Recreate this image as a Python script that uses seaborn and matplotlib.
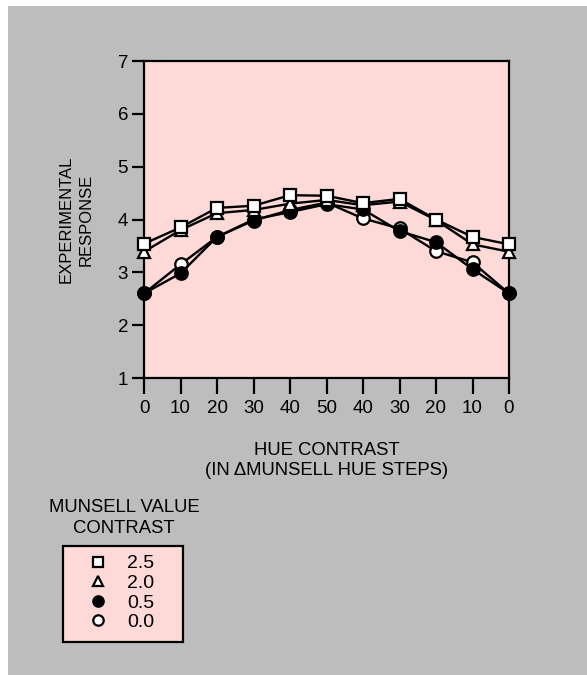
import matplotlib
matplotlib.use('Agg')
import matplotlib.pyplot as plt
from matplotlib.lines import Line2D
from matplotlib.patches import Rectangle
import numpy as np
import pandas as pd
import seaborn as sns

# ── Data ──────────────────────────────────────────────────────────────────────
hue_labels = ['0', '10', '20', '30', '40', '50', '40', '30', '20', '10', '0']
contrast_levels = ['2.5', '2.0', '0.5', '0.0']

resp_25 = [3.54, 3.85, 4.22, 4.26, 4.46, 4.45, 4.31, 4.39, 4.00, 3.67, 3.53]
resp_20 = [3.39, 3.80, 4.12, 4.18, 4.30, 4.37, 4.27, 4.34, 3.99, 3.53, 3.39]
resp_05 = [2.60, 2.98, 3.67, 4.00, 4.14, 4.29, 4.19, 3.78, 3.57, 3.06, 2.60]
resp_00 = [2.60, 3.15, 3.67, 3.98, 4.18, 4.32, 4.02, 3.83, 3.40, 3.19, 2.60]

pos = np.arange(len(hue_labels))
df = pd.DataFrame({
    'pos': np.tile(pos, 4),
    'response': resp_25 + resp_20 + resp_05 + resp_00,
    'contrast': np.repeat(contrast_levels, len(pos)),
})

# ── Style ─────────────────────────────────────────────────────────────────────
sns.set_style('ticks')
plt.rcParams['font.family'] = ['Liberation Sans', 'DejaVu Sans']
plt.rcParams['text.color'] = 'black'
plt.rcParams['axes.labelcolor'] = 'black'

bg_gray = '#bdbdbd'
pink = '#fdd9d8'

fig = plt.figure(figsize=(5.87, 6.75), dpi=100)
fig.patch.set_facecolor('white')
fig.patches.append(Rectangle((8 / 587, 0), 1 - 8 / 587, 1 - 6 / 675,
                             transform=fig.transFigure, facecolor=bg_gray,
                             edgecolor='none', zorder=-10))

ax = fig.add_axes([144 / 587, 1 - 378 / 675, 365 / 587, 317 / 675])
ax.set_facecolor(pink)

# marker shape, face colour, size, draw order (open circles first, squares on top)
marker_style = {
    '0.0': ('o', 'white', 9, 2),
    '0.5': ('o', 'black', 9, 3),
    '2.0': ('^', 'white', 9, 4),
    '2.5': ('s', 'white', 9, 5),
}

for level in ['0.0', '0.5', '2.0', '2.5']:
    sub = df[df['contrast'] == level]
    m, fc, ms, z = marker_style[level]
    sns.lineplot(data=sub, x='pos', y='response', ax=ax, color='black',
                 linewidth=1.7, marker=m, markersize=ms, markerfacecolor=fc,
                 markeredgecolor='black', markeredgewidth=1.6, zorder=z,
                 clip_on=False)

ax.set_xlim(0, 10)
ax.set_ylim(1, 7)
ax.set_xticks(pos)
ax.set_xticklabels(hue_labels)
ax.set_yticks(range(1, 8))

for s in ax.spines.values():
    s.set_color('black')
    s.set_linewidth(1.6)

ax.tick_params(axis='x', direction='out', length=11.5, width=1.6, pad=4,
               labelsize=13.5, colors='black')
ax.tick_params(axis='y', direction='out', length=8.5, width=1.6, pad=3,
               labelsize=13.5, colors='black')

ax.set_xlabel('HUE CONTRAST\n(IN ΔMUNSELL HUE STEPS)', fontsize=13.3,
              labelpad=18, linespacing=1.25)
ax.set_ylabel('EXPERIMENTAL\nRESPONSE', fontsize=12, labelpad=17,
              linespacing=1.4)

# ── Legend (title sits above the box) ─────────────────────────────────────────
fig.text(124 / 587, 1 - 518 / 675, 'MUNSELL VALUE\nCONTRAST', ha='center',
         va='center', fontsize=13.3, linespacing=1.25)

fig.patches.append(Rectangle((63 / 587, 1 - 642 / 675), 120 / 587, 96 / 675,
                             transform=fig.transFigure, facecolor=pink,
                             edgecolor='black', linewidth=1.6, zorder=1))

handles = []
for level in contrast_levels:
    m, fc, ms, z = marker_style[level]
    handles.append(Line2D([], [], linestyle='none', marker=m, markersize=7.5,
                          markerfacecolor=fc, markeredgecolor='black',
                          markeredgewidth=1.6, label=level))

leg = fig.legend(handles=handles, loc='center',
                 bbox_to_anchor=(122 / 587, 1 - 593 / 675),
                 frameon=False, fontsize=14,
                 handlelength=0.8, handletextpad=1.1, labelspacing=0.1,
                 borderpad=0, borderaxespad=0)
leg.set_zorder(2)

plt.savefig('out.png', dpi=100)
plt.close()
